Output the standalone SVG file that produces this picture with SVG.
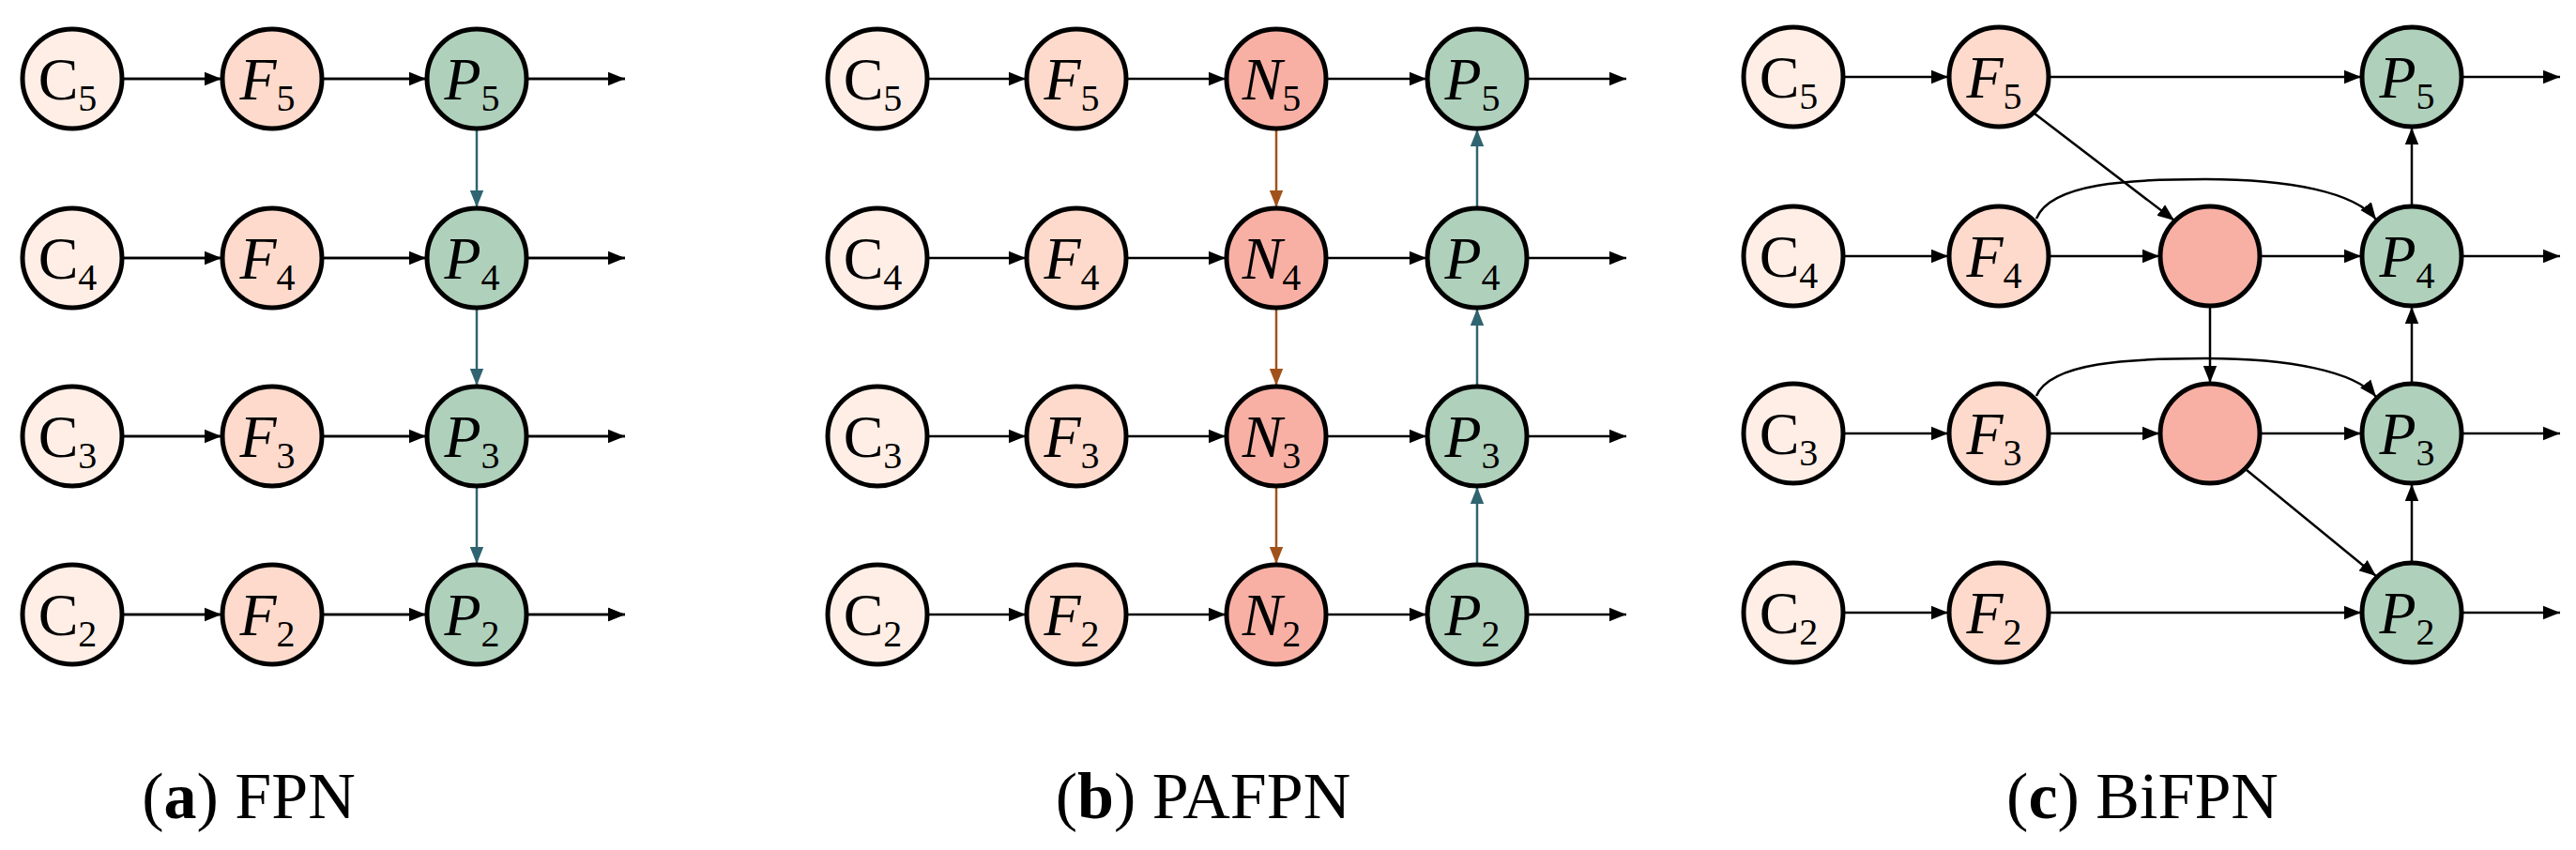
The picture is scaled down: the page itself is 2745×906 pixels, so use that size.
<svg xmlns="http://www.w3.org/2000/svg" width="2745" height="906" viewBox="0 0 2745 906">
<style>
.n circle{stroke:#000;stroke-width:5}
.c{fill:#FFEEE6}.f{fill:#FDDACC}.m{fill:#F8B0A5}.p{fill:#AFD0BB}
text{font-family:"Liberation Serif",serif;font-size:64px;text-anchor:middle}
.i{font-style:italic}
.s{font-size:40px;font-style:normal}
.cap{font-size:70px;text-anchor:middle}
.e path,.e line{fill:none;stroke:#000;stroke-width:2.5}
.e .t{stroke:#2F6470}.e .b{stroke:#A0521A}
</style>
<defs>
<marker id="a" viewBox="0 0 10 10" refX="10" refY="5" markerWidth="8" markerHeight="8" markerUnits="userSpaceOnUse" orient="auto" style="overflow:visible"><path d="M0,0L10,5L0,10z" fill="#000" transform="scale(1.8) translate(-4.4,-2.2)"/></marker>
<marker id="at" viewBox="0 0 10 10" refX="10" refY="5" markerWidth="18" markerHeight="18" markerUnits="userSpaceOnUse" orient="auto"><path d="M0,1L10,5L0,9z" fill="#2F6470"/></marker>
<marker id="ab" viewBox="0 0 10 10" refX="10" refY="5" markerWidth="18" markerHeight="18" markerUnits="userSpaceOnUse" orient="auto"><path d="M0,1L10,5L0,9z" fill="#A0521A"/></marker>
<marker id="k" viewBox="0 0 10 10" refX="10" refY="5" markerWidth="18" markerHeight="18" markerUnits="userSpaceOnUse" orient="auto"><path d="M0,1L10,5L0,9z" fill="#000"/></marker>
</defs>

<g class="e" id="connectors">
<!-- panel a -->
<path d="M131,84H236M343,84H454M562,84H666M131,275H236M343,275H454M562,275H666M131,465H236M343,465H454M562,465H666M131,655H236M343,655H454M562,655H666" marker-end="url(#k)"/>
<line x1="131" y1="84" x2="236" y2="84" marker-end="url(#k)"/>
<line x1="343" y1="84" x2="454" y2="84" marker-end="url(#k)"/>
<line x1="562" y1="84" x2="666" y2="84" marker-end="url(#k)"/>
<line x1="131" y1="275" x2="236" y2="275" marker-end="url(#k)"/>
<line x1="343" y1="275" x2="454" y2="275" marker-end="url(#k)"/>
<line x1="562" y1="275" x2="666" y2="275" marker-end="url(#k)"/>
<line x1="131" y1="465" x2="236" y2="465" marker-end="url(#k)"/>
<line x1="343" y1="465" x2="454" y2="465" marker-end="url(#k)"/>
<line x1="562" y1="465" x2="666" y2="465" marker-end="url(#k)"/>
<line x1="131" y1="655" x2="236" y2="655" marker-end="url(#k)"/>
<line x1="343" y1="655" x2="454" y2="655" marker-end="url(#k)"/>
<line x1="562" y1="655" x2="666" y2="655" marker-end="url(#k)"/>
<line class="t" x1="508" y1="138" x2="508" y2="221" marker-end="url(#at)"/>
<line class="t" x1="508" y1="329" x2="508" y2="411" marker-end="url(#at)"/>
<line class="t" x1="508" y1="519" x2="508" y2="601" marker-end="url(#at)"/>
<!-- panel b -->
<line x1="989" y1="84" x2="1093" y2="84" marker-end="url(#k)"/>
<line x1="1201" y1="84" x2="1306" y2="84" marker-end="url(#k)"/>
<line x1="1414" y1="84" x2="1520" y2="84" marker-end="url(#k)"/>
<line x1="1628" y1="84" x2="1733" y2="84" marker-end="url(#k)"/>
<line x1="989" y1="275" x2="1093" y2="275" marker-end="url(#k)"/>
<line x1="1201" y1="275" x2="1306" y2="275" marker-end="url(#k)"/>
<line x1="1414" y1="275" x2="1520" y2="275" marker-end="url(#k)"/>
<line x1="1628" y1="275" x2="1733" y2="275" marker-end="url(#k)"/>
<line x1="989" y1="465" x2="1093" y2="465" marker-end="url(#k)"/>
<line x1="1201" y1="465" x2="1306" y2="465" marker-end="url(#k)"/>
<line x1="1414" y1="465" x2="1520" y2="465" marker-end="url(#k)"/>
<line x1="1628" y1="465" x2="1733" y2="465" marker-end="url(#k)"/>
<line x1="989" y1="655" x2="1093" y2="655" marker-end="url(#k)"/>
<line x1="1201" y1="655" x2="1306" y2="655" marker-end="url(#k)"/>
<line x1="1414" y1="655" x2="1520" y2="655" marker-end="url(#k)"/>
<line x1="1628" y1="655" x2="1733" y2="655" marker-end="url(#k)"/>
<line class="b" x1="1360" y1="138" x2="1360" y2="221" marker-end="url(#ab)"/>
<line class="b" x1="1360" y1="329" x2="1360" y2="411" marker-end="url(#ab)"/>
<line class="b" x1="1360" y1="519" x2="1360" y2="601" marker-end="url(#ab)"/>
<line class="t" x1="1574" y1="601" x2="1574" y2="519" marker-end="url(#at)"/>
<line class="t" x1="1574" y1="411" x2="1574" y2="329" marker-end="url(#at)"/>
<line class="t" x1="1574" y1="221" x2="1574" y2="138" marker-end="url(#at)"/>
<!-- panel c -->
<line x1="1965" y1="82" x2="2076" y2="82" marker-end="url(#k)"/>
<line x1="2184" y1="82" x2="2516" y2="82" marker-end="url(#k)"/>
<line x1="2624" y1="82" x2="2728" y2="82" marker-end="url(#k)"/>
<line x1="1965" y1="273" x2="2076" y2="273" marker-end="url(#k)"/>
<line x1="2184" y1="273" x2="2301" y2="273" marker-end="url(#k)"/>
<line x1="2409" y1="273" x2="2516" y2="273" marker-end="url(#k)"/>
<line x1="2624" y1="273" x2="2728" y2="273" marker-end="url(#k)"/>
<line x1="1965" y1="462" x2="2076" y2="462" marker-end="url(#k)"/>
<line x1="2184" y1="462" x2="2301" y2="462" marker-end="url(#k)"/>
<line x1="2409" y1="462" x2="2516" y2="462" marker-end="url(#k)"/>
<line x1="2624" y1="462" x2="2728" y2="462" marker-end="url(#k)"/>
<line x1="1965" y1="653" x2="2076" y2="653" marker-end="url(#k)"/>
<line x1="2184" y1="653" x2="2516" y2="653" marker-end="url(#k)"/>
<line x1="2624" y1="653" x2="2728" y2="653" marker-end="url(#k)"/>
<line x1="2168" y1="121" x2="2317" y2="235" marker-end="url(#k)"/>
<line x1="2355" y1="327" x2="2355" y2="408" marker-end="url(#k)"/>
<line x1="2394" y1="501" x2="2532" y2="614" marker-end="url(#k)"/>
<path d="M2170,233C2185,195 2270,191 2350,191C2440,191 2510,205 2532,234" marker-end="url(#k)"/>
<path d="M2170,422C2185,386 2270,382 2350,382C2440,382 2510,396 2532,423" marker-end="url(#k)"/>
<line x1="2570" y1="599" x2="2570" y2="516" marker-end="url(#k)"/>
<line x1="2570" y1="408" x2="2570" y2="327" marker-end="url(#k)"/>
<line x1="2570" y1="219" x2="2570" y2="136" marker-end="url(#k)"/>
</g>

<g id="a-C5" class="n"><circle class="c" cx="77" cy="84" r="53"/><text x="72" y="106">C<tspan class="s" dy="12">5</tspan></text></g>
<g id="a-C4" class="n"><circle class="c" cx="77" cy="275" r="53"/><text x="72" y="297">C<tspan class="s" dy="12">4</tspan></text></g>
<g id="a-C3" class="n"><circle class="c" cx="77" cy="465" r="53"/><text x="72" y="487">C<tspan class="s" dy="12">3</tspan></text></g>
<g id="a-C2" class="n"><circle class="c" cx="77" cy="655" r="53"/><text x="72" y="677">C<tspan class="s" dy="12">2</tspan></text></g>
<g id="a-F5" class="n"><circle class="f" cx="290" cy="84" r="53"/><text class="i" x="285" y="106">F<tspan class="s" dy="12">5</tspan></text></g>
<g id="a-F4" class="n"><circle class="f" cx="290" cy="275" r="53"/><text class="i" x="285" y="297">F<tspan class="s" dy="12">4</tspan></text></g>
<g id="a-F3" class="n"><circle class="f" cx="290" cy="465" r="53"/><text class="i" x="285" y="487">F<tspan class="s" dy="12">3</tspan></text></g>
<g id="a-F2" class="n"><circle class="f" cx="290" cy="655" r="53"/><text class="i" x="285" y="677">F<tspan class="s" dy="12">2</tspan></text></g>
<g id="a-P5" class="n"><circle class="p" cx="508" cy="84" r="53"/><text class="i" x="503" y="106">P<tspan class="s" dy="12">5</tspan></text></g>
<g id="a-P4" class="n"><circle class="p" cx="508" cy="275" r="53"/><text class="i" x="503" y="297">P<tspan class="s" dy="12">4</tspan></text></g>
<g id="a-P3" class="n"><circle class="p" cx="508" cy="465" r="53"/><text class="i" x="503" y="487">P<tspan class="s" dy="12">3</tspan></text></g>
<g id="a-P2" class="n"><circle class="p" cx="508" cy="655" r="53"/><text class="i" x="503" y="677">P<tspan class="s" dy="12">2</tspan></text></g>

<g id="b-C5" class="n"><circle class="c" cx="935" cy="84" r="53"/><text x="930" y="106">C<tspan class="s" dy="12">5</tspan></text></g>
<g id="b-C4" class="n"><circle class="c" cx="935" cy="275" r="53"/><text x="930" y="297">C<tspan class="s" dy="12">4</tspan></text></g>
<g id="b-C3" class="n"><circle class="c" cx="935" cy="465" r="53"/><text x="930" y="487">C<tspan class="s" dy="12">3</tspan></text></g>
<g id="b-C2" class="n"><circle class="c" cx="935" cy="655" r="53"/><text x="930" y="677">C<tspan class="s" dy="12">2</tspan></text></g>
<g id="b-F5" class="n"><circle class="f" cx="1147" cy="84" r="53"/><text class="i" x="1142" y="106">F<tspan class="s" dy="12">5</tspan></text></g>
<g id="b-F4" class="n"><circle class="f" cx="1147" cy="275" r="53"/><text class="i" x="1142" y="297">F<tspan class="s" dy="12">4</tspan></text></g>
<g id="b-F3" class="n"><circle class="f" cx="1147" cy="465" r="53"/><text class="i" x="1142" y="487">F<tspan class="s" dy="12">3</tspan></text></g>
<g id="b-F2" class="n"><circle class="f" cx="1147" cy="655" r="53"/><text class="i" x="1142" y="677">F<tspan class="s" dy="12">2</tspan></text></g>
<g id="b-N5" class="n"><circle class="m" cx="1360" cy="84" r="53"/><text class="i" x="1355" y="106">N<tspan class="s" dy="12">5</tspan></text></g>
<g id="b-N4" class="n"><circle class="m" cx="1360" cy="275" r="53"/><text class="i" x="1355" y="297">N<tspan class="s" dy="12">4</tspan></text></g>
<g id="b-N3" class="n"><circle class="m" cx="1360" cy="465" r="53"/><text class="i" x="1355" y="487">N<tspan class="s" dy="12">3</tspan></text></g>
<g id="b-N2" class="n"><circle class="m" cx="1360" cy="655" r="53"/><text class="i" x="1355" y="677">N<tspan class="s" dy="12">2</tspan></text></g>
<g id="b-P5" class="n"><circle class="p" cx="1574" cy="84" r="53"/><text class="i" x="1569" y="106">P<tspan class="s" dy="12">5</tspan></text></g>
<g id="b-P4" class="n"><circle class="p" cx="1574" cy="275" r="53"/><text class="i" x="1569" y="297">P<tspan class="s" dy="12">4</tspan></text></g>
<g id="b-P3" class="n"><circle class="p" cx="1574" cy="465" r="53"/><text class="i" x="1569" y="487">P<tspan class="s" dy="12">3</tspan></text></g>
<g id="b-P2" class="n"><circle class="p" cx="1574" cy="655" r="53"/><text class="i" x="1569" y="677">P<tspan class="s" dy="12">2</tspan></text></g>

<g id="c-C5" class="n"><circle class="c" cx="1911" cy="82" r="53"/><text x="1906" y="104">C<tspan class="s" dy="12">5</tspan></text></g>
<g id="c-C4" class="n"><circle class="c" cx="1911" cy="273" r="53"/><text x="1906" y="295">C<tspan class="s" dy="12">4</tspan></text></g>
<g id="c-C3" class="n"><circle class="c" cx="1911" cy="462" r="53"/><text x="1906" y="484">C<tspan class="s" dy="12">3</tspan></text></g>
<g id="c-C2" class="n"><circle class="c" cx="1911" cy="653" r="53"/><text x="1906" y="675">C<tspan class="s" dy="12">2</tspan></text></g>
<g id="c-F5" class="n"><circle class="f" cx="2130" cy="82" r="53"/><text class="i" x="2125" y="104">F<tspan class="s" dy="12">5</tspan></text></g>
<g id="c-F4" class="n"><circle class="f" cx="2130" cy="273" r="53"/><text class="i" x="2125" y="295">F<tspan class="s" dy="12">4</tspan></text></g>
<g id="c-F3" class="n"><circle class="f" cx="2130" cy="462" r="53"/><text class="i" x="2125" y="484">F<tspan class="s" dy="12">3</tspan></text></g>
<g id="c-F2" class="n"><circle class="f" cx="2130" cy="653" r="53"/><text class="i" x="2125" y="675">F<tspan class="s" dy="12">2</tspan></text></g>
<g id="c-M4" class="n"><circle class="m" cx="2355" cy="273" r="53"/></g>
<g id="c-M3" class="n"><circle class="m" cx="2355" cy="462" r="53"/></g>
<g id="c-P5" class="n"><circle class="p" cx="2570" cy="82" r="53"/><text class="i" x="2565" y="104">P<tspan class="s" dy="12">5</tspan></text></g>
<g id="c-P4" class="n"><circle class="p" cx="2570" cy="273" r="53"/><text class="i" x="2565" y="295">P<tspan class="s" dy="12">4</tspan></text></g>
<g id="c-P3" class="n"><circle class="p" cx="2570" cy="462" r="53"/><text class="i" x="2565" y="484">P<tspan class="s" dy="12">3</tspan></text></g>
<g id="c-P2" class="n"><circle class="p" cx="2570" cy="653" r="53"/><text class="i" x="2565" y="675">P<tspan class="s" dy="12">2</tspan></text></g>

<text class="cap" x="265" y="872">(<tspan font-weight="bold">a</tspan>) FPN</text>
<text class="cap" x="1282" y="872">(<tspan font-weight="bold">b</tspan>) PAFPN</text>
<text class="cap" x="2283" y="872">(<tspan font-weight="bold">c</tspan>) BiFPN</text>
</svg>
